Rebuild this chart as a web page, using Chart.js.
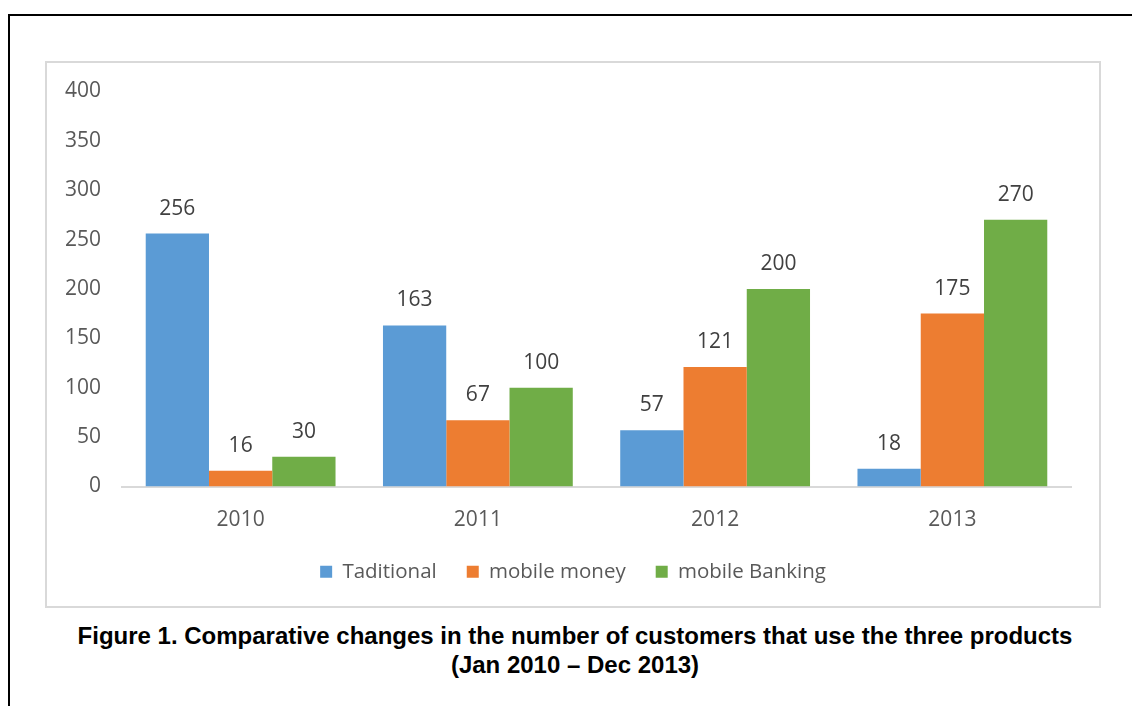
<!DOCTYPE html>
<html>
<head>
<meta charset="utf-8">
<script src="https://cdn.jsdelivr.net/npm/chart.js@4.4.1/dist/chart.umd.min.js"></script>
<style>
  body { margin: 0; background: #fff; width: 1132px; height: 706px; overflow: hidden; position: relative; }
  .page { position: absolute; left: 8px; top: 14px; right: 0; bottom: 0; border-top: 2px solid #000; border-left: 2px solid #000; }
  .frame { position: absolute; left: 45px; top: 61px; width: 1052px; height: 543px; border: 2px solid #d9d9d9; }
  .caption { position: absolute; left: 9px; width: 1132px; top: 621px; text-align: center;
    font: bold 24px "Liberation Sans", Arial, sans-serif; line-height: 29px; color: #000; }
</style>
</head>
<body>
<div class="page"></div>
<div class="frame"><canvas id="myChart" width="1052" height="543"></canvas></div>
<div class="caption">Figure 1. Comparative changes in the number of customers that use the three products<br>(Jan 2010 &ndash; Dec 2013)</div>
<script>
// categories + series
const years = ["2010", "2011", "2012", "2013"];
const traditional = [256, 163, 57, 18];
const mobileMoney = [16, 67, 121, 175];
const mobileBanking = [30, 100, 200, 270];
const seriesNames = ["Taditional", "mobile money", "mobile Banking"];
const barColors = ["#5b9bd5", "#ed7d31", "#70ad47"];
const yTicks = [0, 50, 100, 150, 200, 250, 300, 350, 400];

// value labels above each bar
const barLabels = {
  id: 'barLabels',
  afterDatasetsDraw(chart) {
    const ctx = chart.ctx;
    ctx.save();
    ctx.font = '21px "Open Sans"';
    ctx.fillStyle = '#404040';
    ctx.textAlign = 'center';
    ctx.textBaseline = 'middle';
    chart.data.datasets.forEach((ds, i) => {
      chart.getDatasetMeta(i).data.forEach((bar, j) => {
        ctx.fillText(ds.data[j], bar.x, bar.y - 25);
      });
    });
    ctx.restore();
  }
};

const ctx = document.getElementById('myChart');

new Chart(ctx, {
  type: 'bar',
  data: {
    labels: years,
    datasets: [
      { label: seriesNames[0], data: traditional, backgroundColor: barColors[0] },
      { label: seriesNames[1], data: mobileMoney, backgroundColor: barColors[1] },
      { label: seriesNames[2], data: mobileBanking, backgroundColor: barColors[2] }
    ]
  },
  options: {
    responsive: false,
    animation: false,
    datasets: { bar: { categoryPercentage: 0.8, barPercentage: 1.0 } },
    layout: { padding: { top: 16, right: 0, left: 0, bottom: 14 } },
    scales: {
      x: {
        grid: { display: false },
        border: { color: '#d9d9d9', width: 2 },
        ticks: { color: '#595959', font: { family: 'Open Sans', size: 21 }, padding: 13 },
        afterFit(scale) { scale.height = 45; }
      },
      y: {
        min: 0,
        max: 400,
        afterBuildTicks(scale) { scale.ticks = yTicks.map(v => ({ value: v })); },
        grid: { display: false, drawTicks: false, tickLength: 0 },
        border: { display: false },
        // small lineHeight so the top label doesn't push the plot down
        ticks: { color: '#595959', font: { family: 'Open Sans', size: 21, lineHeight: 0.7 }, padding: 21 },
        afterFit(scale) { scale.width = 75; }
      },
      // empty right axis, just keeps a margin on the right of the plot
      yRight: {
        position: 'right',
        grid: { display: false },
        border: { display: false },
        ticks: { display: false },
        afterFit(scale) { scale.width = 28; }
      }
    },
    plugins: {
      legend: {
        display: true,
        position: 'bottom',
        labels: {
          color: '#595959',
          font: { family: 'Open Sans', size: 20.5 },
          boxWidth: 12,
          boxHeight: 12,
          padding: 30
        }
      },
      tooltip: { enabled: false }
    }
  },
  plugins: [barLabels]
});
</script>
</body>
</html>
